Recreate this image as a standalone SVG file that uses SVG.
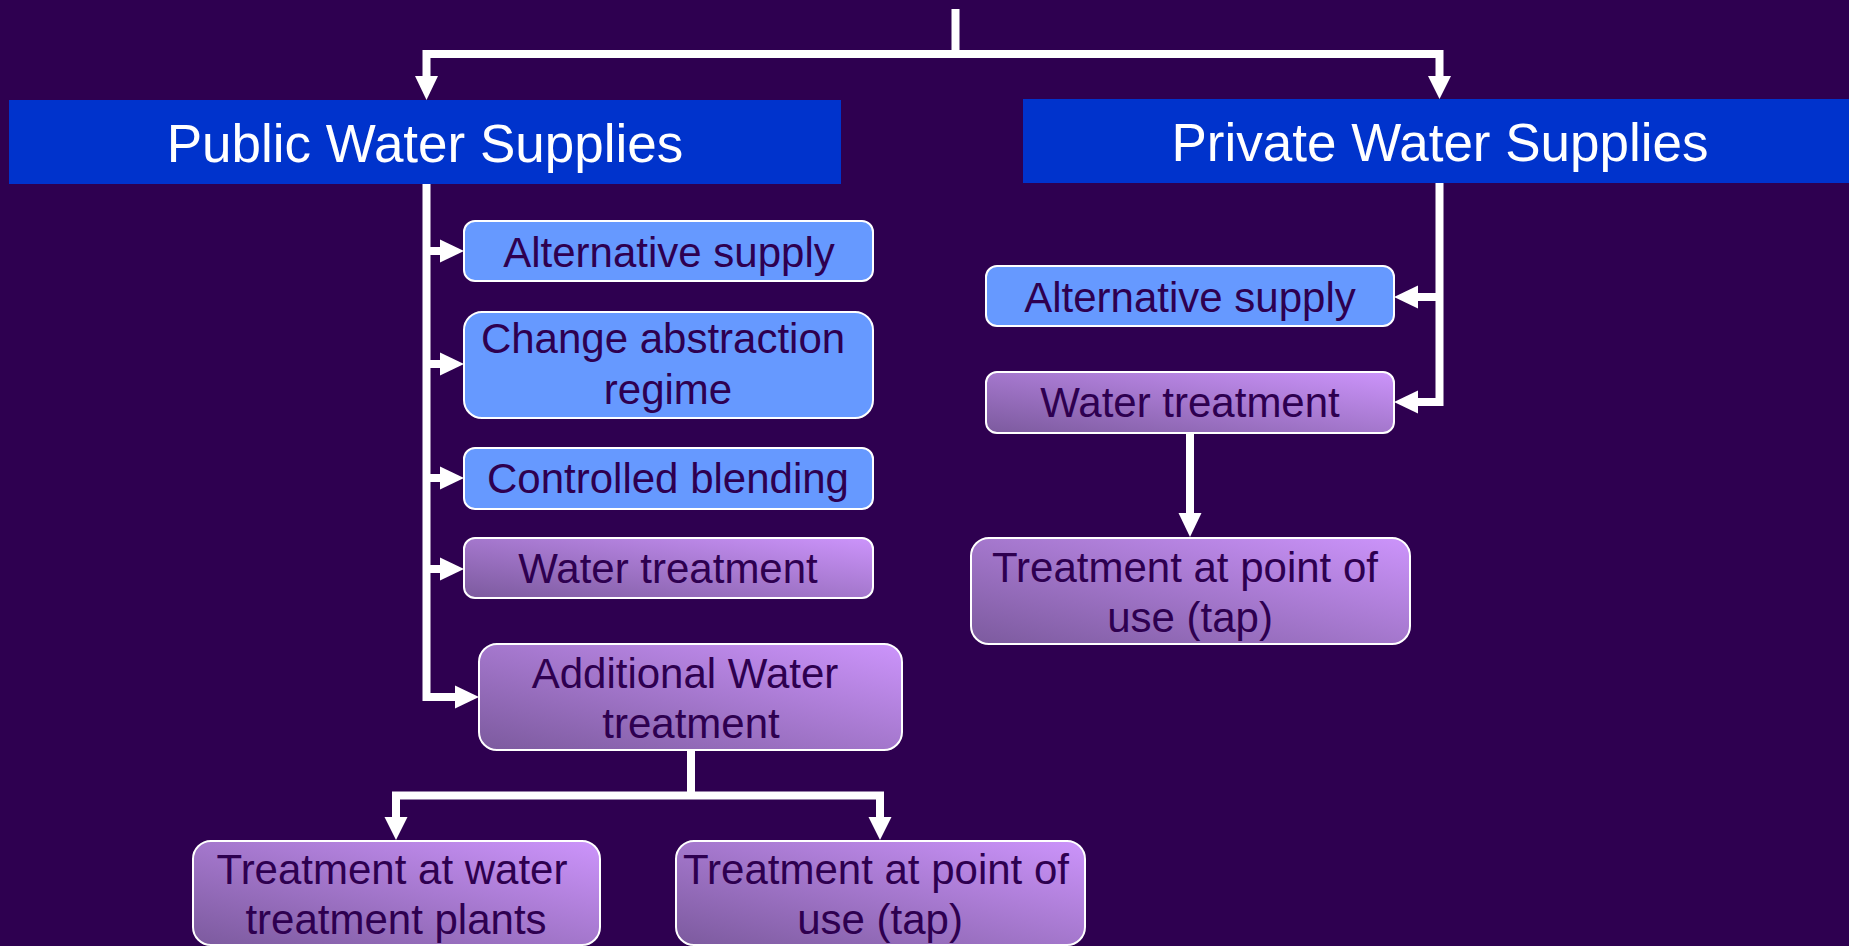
<svg xmlns="http://www.w3.org/2000/svg" width="1849" height="946" viewBox="0 0 1849 946">
  <defs>
    <linearGradient id="violet" x1="0" y1="1" x2="1" y2="0">
      <stop offset="0" stop-color="#7C5A9E"/>
      <stop offset="1" stop-color="#CC94FB"/>
    </linearGradient>
    <style>
      .bg { fill: #2E0050; }
      .head { fill: #0033CC; }
      .blue { fill: #6699FF; stroke: #FFFFFF; stroke-width: 2; }
      .violet { fill: url(#violet); stroke: #FFFFFF; stroke-width: 2; }
      .htxt { font-family: "Liberation Sans", Arial, sans-serif; font-size: 53px; fill: #FFFFFF; text-anchor: middle; }
      .txt { font-family: "Liberation Sans", Arial, sans-serif; font-size: 42px; fill: #2E0050; text-anchor: middle; }
      .wire { fill: none; stroke: #FFFFFF; stroke-width: 8; stroke-linejoin: miter; }
      .tip { fill: #FFFFFF; }
    </style>
  </defs>

  <rect class="bg" x="0" y="0" width="1849" height="946"/>

  <!-- connectors -->
  <g id="connectors">
    <!-- top split -->
    <path class="wire" d="M955.5 9 V54 M426.5 54 H1439.5 M426.5 50 V77 M1439.5 50 V77"/>
    <polygon class="tip" points="415,76 438,76 426.5,100"/>
    <polygon class="tip" points="1428,76 1451,76 1439.5,99"/>

    <!-- public branch -->
    <path class="wire" d="M426.5 184 V697 H456 M426.5 251 H441 M426.5 364 H441 M426.5 478 H441 M426.5 569 H441"/>
    <polygon class="tip" points="440,239.5 440,262.5 464,251"/>
    <polygon class="tip" points="440,352.5 440,375.5 464,364"/>
    <polygon class="tip" points="440,466.5 440,489.5 464,478"/>
    <polygon class="tip" points="440,557.5 440,580.5 464,569"/>
    <polygon class="tip" points="455,685.5 455,708.5 479,697"/>

    <!-- additional treatment split -->
    <path class="wire" d="M691 750 V795.5 M396 795.5 H884 M396 791.5 V818 M880 791.5 V818"/>
    <polygon class="tip" points="384.5,817 407.5,817 396,840"/>
    <polygon class="tip" points="868.5,817 891.5,817 880,840"/>

    <!-- private branch -->
    <path class="wire" d="M1439.5 183 V402 H1417 M1439.5 297 H1417"/>
    <polygon class="tip" points="1418,285.5 1418,308.5 1394,297"/>
    <polygon class="tip" points="1418,390.5 1418,413.5 1394,402"/>
    <path class="wire" d="M1190 433 V514"/>
    <polygon class="tip" points="1178.5,513 1201.5,513 1190,537"/>
  </g>

  <!-- headers -->
  <g id="public-water-supplies">
    <rect class="head" x="9" y="100" width="832" height="84"/>
    <text class="htxt" x="425" y="162">Public Water Supplies</text>
  </g>
  <g id="private-water-supplies">
    <rect class="head" x="1023" y="99" width="834" height="84"/>
    <text class="htxt" x="1440" y="161">Private Water Supplies</text>
  </g>

  <!-- public options -->
  <g id="public-alternative-supply">
    <rect class="blue" x="464" y="221" width="409" height="60" rx="11"/>
    <text class="txt" x="669" y="267">Alternative supply</text>
  </g>
  <g id="change-abstraction-regime">
    <rect class="blue" x="464" y="312" width="409" height="106" rx="18"/>
    <text class="txt" x="663" y="353">Change abstraction</text>
    <text class="txt" x="668" y="404">regime</text>
  </g>
  <g id="controlled-blending">
    <rect class="blue" x="464" y="448" width="409" height="61" rx="11"/>
    <text class="txt" x="668" y="493">Controlled blending</text>
  </g>
  <g id="public-water-treatment">
    <rect class="violet" x="464" y="538" width="409" height="60" rx="11"/>
    <text class="txt" x="668" y="583">Water treatment</text>
  </g>
  <g id="additional-water-treatment">
    <rect class="violet" x="479" y="644" width="423" height="106" rx="18"/>
    <text class="txt" x="685" y="688">Additional Water</text>
    <text class="txt" x="691" y="738">treatment</text>
  </g>
  <g id="treatment-at-plants">
    <rect class="violet" x="193" y="841" width="407" height="104" rx="18"/>
    <text class="txt" x="392" y="884">Treatment at water</text>
    <text class="txt" x="396" y="934">treatment plants</text>
  </g>
  <g id="public-point-of-use">
    <rect class="violet" x="676" y="841" width="409" height="104" rx="18"/>
    <text class="txt" x="876" y="884">Treatment at point of</text>
    <text class="txt" x="880" y="934">use (tap)</text>
  </g>

  <!-- private options -->
  <g id="private-alternative-supply">
    <rect class="blue" x="986" y="266" width="408" height="60" rx="11"/>
    <text class="txt" x="1190" y="312">Alternative supply</text>
  </g>
  <g id="private-water-treatment">
    <rect class="violet" x="986" y="372" width="408" height="61" rx="11"/>
    <text class="txt" x="1190" y="417">Water treatment</text>
  </g>
  <g id="private-point-of-use">
    <rect class="violet" x="971" y="538" width="439" height="106" rx="18"/>
    <text class="txt" x="1185" y="582">Treatment at point of</text>
    <text class="txt" x="1190" y="632">use (tap)</text>
  </g>
</svg>
